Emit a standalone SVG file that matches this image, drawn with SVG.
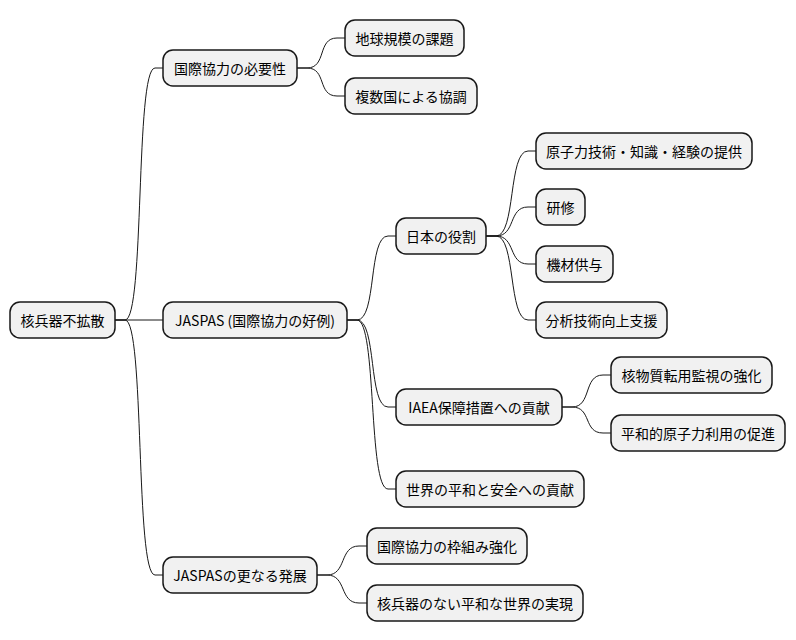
<svg xmlns="http://www.w3.org/2000/svg" width="796" height="640" viewBox="0 0 796 640">
<style>
.n rect{fill:#f1f1f1;stroke:#181818;stroke-width:1.5}
.n text{font-family:"Noto Sans CJK JP","Noto Sans",sans-serif;font-size:14px;fill:#000;text-anchor:middle;dominant-baseline:central}
.c path{fill:none;stroke:#181818;stroke-width:1}
</style>
<rect width="796" height="640" fill="#fff"/>
<g class="c">
<path d="M115,320 L125,320 C145,320 135,68 155,68 L163,68"/>
<path d="M115,320 L163,320"/>
<path d="M115,320 L125,320 C145,320 135,575 155,575 L163,575"/>
<path d="M297,68 L307,68 C327,68 317,38 337,38 L345,38"/>
<path d="M297,68 L307,68 C327,68 317,96 337,96 L345,96"/>
<path d="M347,320 L357,320 C377,320 368,236 388,236 L396,236"/>
<path d="M347,320 L357,320 C377,320 368,407 388,407 L396,407"/>
<path d="M347,320 L357,320 C377,320 368,489 388,489 L396,489"/>
<path d="M486,236 L496,236 C516,236 508,151 528,151 L536,151"/>
<path d="M486,236 L496,236 C516,236 508,207 528,207 L536,207"/>
<path d="M486,236 L496,236 C516,236 508,264 528,264 L536,264"/>
<path d="M486,236 L496,236 C516,236 508,320 528,320 L536,320"/>
<path d="M562,407 L572,407 C592,407 583,375 603,375 L611,375"/>
<path d="M562,407 L572,407 C592,407 583,433 603,433 L611,433"/>
<path d="M317,575 L327,575 C347,575 339,546 359,546 L367,546"/>
<path d="M317,575 L327,575 C347,575 339,603 359,603 L367,603"/>
</g>
<g id="root" class="n"><rect x="10" y="302" width="105" height="36" rx="10"/><text x="62.5" y="320">核兵器不拡散</text></g>
<g id="n1" class="n"><rect x="163" y="50" width="134" height="36" rx="10"/><text x="230" y="68">国際協力の必要性</text></g>
<g id="n11" class="n"><rect x="345" y="20" width="119" height="36" rx="10"/><text x="404.5" y="38">地球規模の課題</text></g>
<g id="n12" class="n"><rect x="345" y="78" width="132" height="36" rx="10"/><text x="411" y="96">複数国による協調</text></g>
<g id="n2" class="n"><rect x="163" y="302" width="184" height="36" rx="10"/><text x="255" y="320">JASPAS (国際協力の好例)</text></g>
<g id="n21" class="n"><rect x="396" y="218" width="90" height="36" rx="10"/><text x="441" y="236">日本の役割</text></g>
<g id="n211" class="n"><rect x="536" y="133" width="216" height="36" rx="10"/><text x="644" y="151">原子力技術・知識・経験の提供</text></g>
<g id="n212" class="n"><rect x="536" y="189" width="49" height="36" rx="10"/><text x="560.5" y="207">研修</text></g>
<g id="n213" class="n"><rect x="536" y="246" width="77" height="36" rx="10"/><text x="574.5" y="264">機材供与</text></g>
<g id="n214" class="n"><rect x="536" y="302" width="131" height="36" rx="10"/><text x="601.5" y="320">分析技術向上支援</text></g>
<g id="n22" class="n"><rect x="396" y="389" width="166" height="36" rx="10"/><text x="479" y="407">IAEA保障措置への貢献</text></g>
<g id="n221" class="n"><rect x="611" y="357" width="161" height="36" rx="10"/><text x="691.5" y="375">核物質転用監視の強化</text></g>
<g id="n222" class="n"><rect x="611" y="415" width="174" height="36" rx="10"/><text x="698" y="433">平和的原子力利用の促進</text></g>
<g id="n23" class="n"><rect x="396" y="471" width="188" height="36" rx="10"/><text x="490" y="489">世界の平和と安全への貢献</text></g>
<g id="n3" class="n"><rect x="163" y="557" width="154" height="36" rx="10"/><text x="240" y="575">JASPASの更なる発展</text></g>
<g id="n31" class="n"><rect x="367" y="528" width="160" height="36" rx="10"/><text x="447" y="546">国際協力の枠組み強化</text></g>
<g id="n32" class="n"><rect x="367" y="585" width="216" height="36" rx="10"/><text x="475" y="603">核兵器のない平和な世界の実現</text></g>
</svg>
